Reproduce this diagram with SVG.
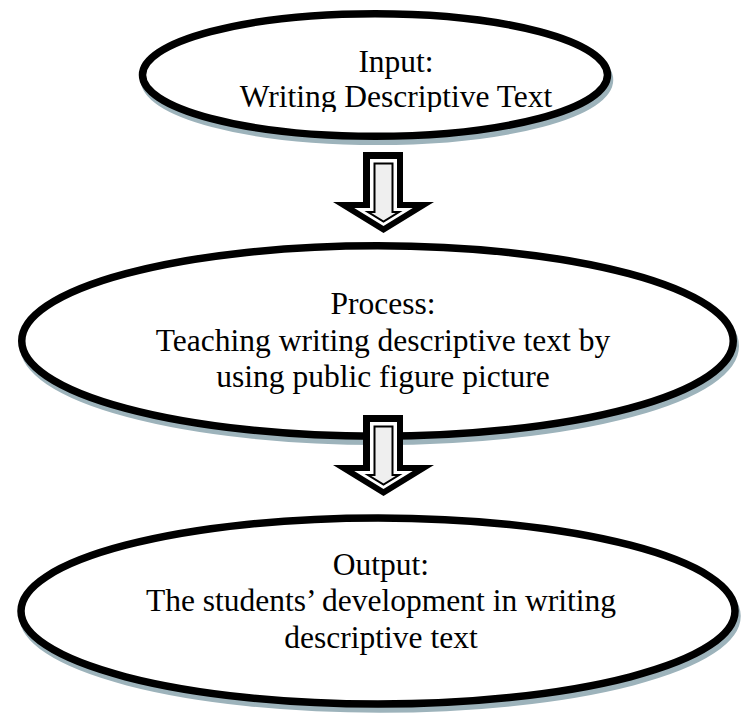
<svg xmlns="http://www.w3.org/2000/svg" xmlns:xlink="http://www.w3.org/1999/xlink" width="742" height="717" viewBox="0 0 742 717">
  <style>
    .shape { fill: #ffffff; stroke: #000000; stroke-width: 7.5; }
    .shadow { fill: none; stroke: #9db3bb; stroke-width: 7.5; }
    .label { font-family: "Liberation Serif", "Times New Roman", serif; font-size: 31.5px; fill: #000000; text-anchor: middle; }
  </style>
  <defs>
    <clipPath id="clipTop">
      <rect x="0" y="0" width="742" height="112"/>
    </clipPath>
    <g id="arrow">
      <path d="M363,152 H403 V202 H434 L383.5,233 L333,202 H363 Z" fill="#000000"/>
      <path d="M370,159 H397 V208 H412.8 L383.5,226 L354.2,208 H370 Z" fill="#ffffff"/>
      <path d="M374.5,163.5 H392.5 V212 H399 L383.5,221.5 L368,212 H374.5 Z" fill="#efefef" stroke="#000000" stroke-width="2"/>
    </g>
  </defs>
  <rect x="0" y="0" width="742" height="717" fill="#ffffff"/>

  <g id="node-input">
    <ellipse class="shadow" cx="377" cy="80" rx="232.5" ry="61.25"/>
    <ellipse class="shape" cx="375" cy="75" rx="232.5" ry="61.25"/>
    <g clip-path="url(#clipTop)">
      <text class="label" x="396" y="72">Input:</text>
      <text class="label" x="396" y="107">Writing Descriptive Text</text>
    </g>
  </g>

  <g id="node-process">
    <ellipse class="shadow" cx="379.5" cy="346" rx="355.75" ry="95.25"/>
    <ellipse class="shape" cx="377.5" cy="341" rx="355.75" ry="95.25"/>
    <text class="label" x="383" y="314">Process:</text>
    <text class="label" x="383" y="351">Teaching writing descriptive text by</text>
    <text class="label" x="383" y="387">using public figure picture</text>
  </g>

  <g id="node-output">
    <ellipse class="shadow" cx="380" cy="616" rx="357" ry="93"/>
    <ellipse class="shape" cx="378" cy="611" rx="357" ry="93"/>
    <text class="label" x="381" y="575">Output:</text>
    <text class="label" x="381" y="611">The students’ development in writing</text>
    <text class="label" x="381" y="648">descriptive text</text>
  </g>

  <g id="connectors">
    <use xlink:href="#arrow" href="#arrow"/>
    <use xlink:href="#arrow" href="#arrow" transform="translate(0,263)"/>
  </g>
</svg>
